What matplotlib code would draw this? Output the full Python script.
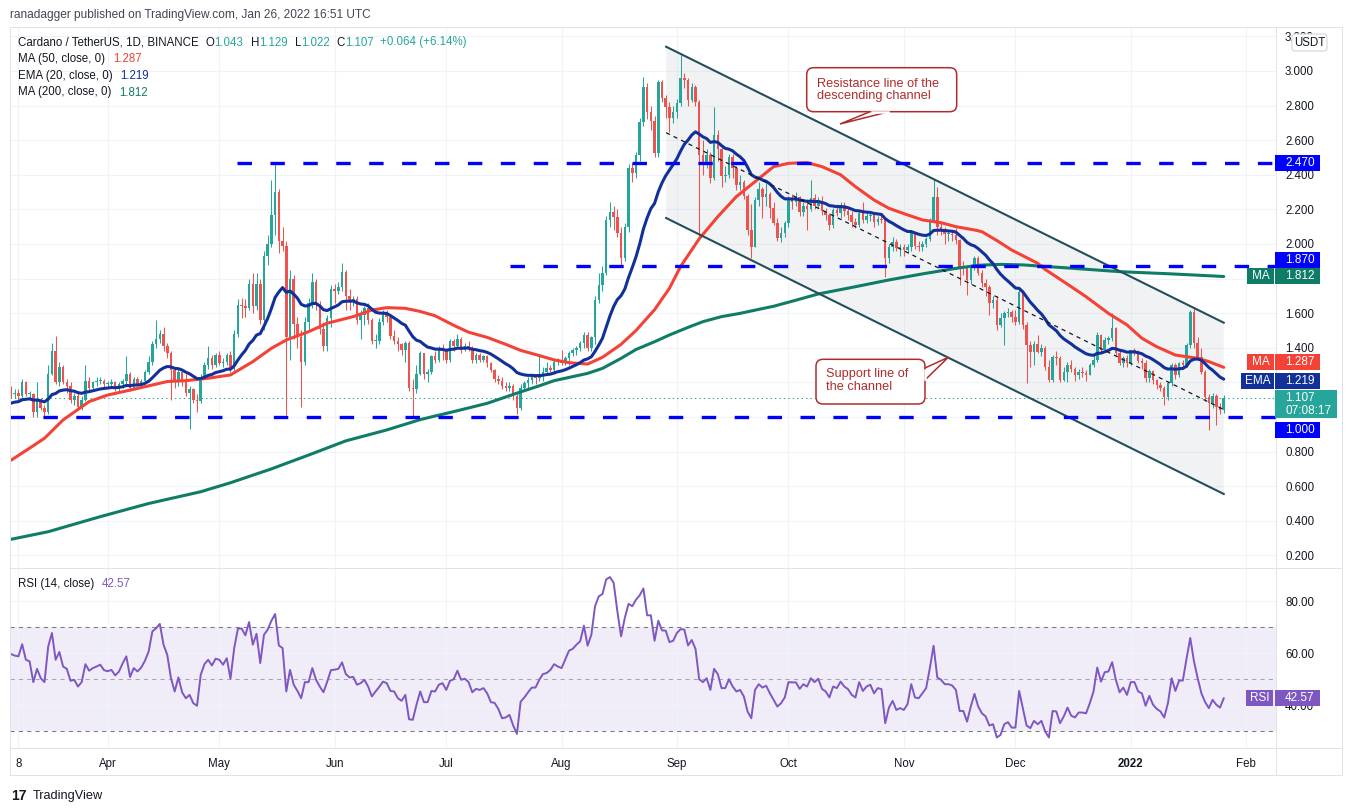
import numpy as np
import pandas as pd
import matplotlib
matplotlib.use("Agg")
import matplotlib.pyplot as plt
from matplotlib.patches import Rectangle, FancyBboxPatch, Polygon
from matplotlib.lines import Line2D
from matplotlib.ticker import FormatStrFormatter, FuncFormatter
from matplotlib.transforms import IdentityTransform

# -----------------------------------------
# style
# -----------------------------------------

plt.rcParams.update({
    "font.family": ["Liberation Sans", "DejaVu Sans"],
    "font.size": 8.3,
    "lines.scale_dashes": False,
    "figure.dpi": 100,
    "savefig.dpi": 100,
})

W, H = 1353, 811
PX = IdentityTransform()

UP = "#26a69a"
DOWN = "#ef5350"
MA50_C = "#f44336"
EMA_C = "#11309a"
MA200_C = "#0e7c66"
LEVEL_C = "#0000ff"
RSI_C = "#7e57c2"
CHANNEL_C = "#214f5b"
ANN_C = "#b02c2c"
BORDER = "#e0e3eb"
GRID = "#f0f3fa"
TEXT = "#131722"

# -----------------------------------------
# data (ADA/USDT daily, from 2021-03-06)
# -----------------------------------------

START = pd.Timestamp("2021-03-06")
OPEN0 = 1.16

CLOSE = [
    1.13, 1.14, 1.12, 1.20, 1.13, 1.13, 1.03, 1.10, 1.05, 1.03,
    1.25, 1.38, 1.20, 1.29, 1.20, 1.18, 1.10, 1.12, 1.06, 1.10,
    1.21, 1.17, 1.20, 1.21, 1.21, 1.19, 1.19, 1.20, 1.16, 1.19,
    1.21, 1.25, 1.17, 1.22, 1.19, 1.21, 1.26, 1.32, 1.42, 1.45,
    1.48, 1.41, 1.37, 1.27, 1.20, 1.26, 1.20, 1.14, 1.16, 1.10,
    1.09, 1.23, 1.30, 1.34, 1.30, 1.36, 1.31, 1.32, 1.36, 1.28,
    1.48, 1.65, 1.64, 1.63, 1.77, 1.64, 1.77, 1.56, 1.93, 2.00,
    2.17, 2.30, 2.02, 1.99, 1.46, 1.80, 1.54, 1.46, 1.32, 1.55,
    1.66, 1.78, 1.65, 1.51, 1.41, 1.57, 1.74, 1.73, 1.75, 1.84,
    1.70, 1.67, 1.68, 1.56, 1.59, 1.63, 1.56, 1.44, 1.44, 1.55,
    1.60, 1.58, 1.47, 1.44, 1.42, 1.385, 1.43, 1.17, 1.16, 1.25,
    1.37, 1.25, 1.26, 1.35, 1.33, 1.39, 1.38, 1.33, 1.44, 1.41,
    1.45, 1.39, 1.41, 1.40, 1.33, 1.36, 1.33, 1.35, 1.31, 1.27,
    1.22, 1.21, 1.18, 1.17, 1.18, 1.12, 1.05, 1.17, 1.195, 1.214,
    1.243, 1.223, 1.243, 1.26, 1.281, 1.272, 1.320, 1.329, 1.310, 1.339,
    1.368, 1.387, 1.397, 1.426, 1.474, 1.40, 1.464, 1.676, 1.76, 1.83,
    2.139, 2.187, 2.158, 2.062, 1.917, 2.100, 2.437, 2.41, 2.514, 2.707,
    2.909, 2.765, 2.71, 2.524, 2.938, 2.842, 2.79, 2.73, 2.765, 2.813,
    2.958, 2.95, 2.83, 2.91, 2.82, 2.514, 2.466, 2.514, 2.380, 2.630,
    2.55, 2.39, 2.40, 2.505, 2.44, 2.34, 2.36, 2.28, 2.081, 1.985,
    2.254, 2.32, 2.27, 2.29, 2.206, 2.123, 2.033, 2.062, 2.120, 2.264,
    2.245, 2.274, 2.187, 2.22, 2.20, 2.264, 2.22, 2.25, 2.19, 2.168,
    2.110, 2.197, 2.18, 2.225, 2.19, 2.17, 2.125, 2.110, 2.177, 2.139,
    2.16, 2.165, 2.125, 2.145, 2.14, 1.917, 1.985, 2.014, 1.975, 1.98,
    1.965, 1.985, 2.062, 1.99, 1.985, 2.00, 2.03, 2.139, 2.27, 2.096,
    2.08, 2.06, 2.06, 2.05, 2.023, 1.869, 1.865, 1.792, 1.869, 1.917,
    1.83, 1.773, 1.753, 1.657, 1.676, 1.532, 1.57, 1.599, 1.609, 1.58,
    1.551, 1.724, 1.532, 1.416, 1.378, 1.422, 1.378, 1.40, 1.291, 1.214,
    1.349, 1.339, 1.214, 1.262, 1.301, 1.28, 1.243, 1.26, 1.255, 1.243,
    1.301, 1.329, 1.474, 1.387, 1.445, 1.458, 1.513, 1.368, 1.31, 1.34,
    1.31, 1.387, 1.38, 1.325, 1.31, 1.224, 1.265, 1.214, 1.185, 1.166,
    1.117, 1.195, 1.301, 1.24, 1.31, 1.30, 1.416, 1.609, 1.43, 1.349,
    1.262, 1.117, 1.079, 1.12, 1.06, 1.043, 1.107,
]

HIGH = [
    1.18, 1.16, 1.16, 1.22, 1.21, 1.15, 1.14, 1.20, 1.11, 1.07,
    1.30, 1.43, 1.47, 1.32, 1.30, 1.22, 1.20, 1.14, 1.15, 1.12,
    1.30, 1.23, 1.21, 1.23, 1.23, 1.22, 1.21, 1.22, 1.21, 1.20,
    1.22, 1.35, 1.26, 1.23, 1.23, 1.22, 1.27, 1.35, 1.44, 1.56,
    1.50, 1.52, 1.43, 1.38, 1.29, 1.28, 1.28, 1.25, 1.18, 1.17,
    1.13, 1.25, 1.32, 1.41, 1.36, 1.37, 1.38, 1.34, 1.37, 1.38,
    1.50, 1.68, 1.69, 1.68, 1.80, 1.83, 1.83, 1.80, 1.96, 2.05,
    2.37, 2.46, 2.32, 2.10, 2.02, 1.85, 1.82, 1.58, 1.50, 1.58,
    1.69, 1.83, 1.80, 1.67, 1.55, 1.59, 1.76, 1.77, 1.78, 1.89,
    1.85, 1.74, 1.70, 1.70, 1.62, 1.64, 1.66, 1.57, 1.48, 1.57,
    1.62, 1.62, 1.59, 1.50, 1.46, 1.43, 1.44, 1.44, 1.22, 1.30,
    1.38, 1.37, 1.28, 1.36, 1.38, 1.41, 1.42, 1.39, 1.45, 1.45,
    1.48, 1.46, 1.43, 1.44, 1.41, 1.37, 1.37, 1.36, 1.36, 1.32,
    1.28, 1.24, 1.23, 1.20, 1.20, 1.19, 1.13, 1.19, 1.21, 1.23,
    1.25, 1.25, 1.354, 1.29, 1.32, 1.30, 1.33, 1.34, 1.387, 1.35,
    1.38, 1.40, 1.41, 1.44, 1.49, 1.49, 1.47, 1.70, 1.83, 1.87,
    2.16, 2.245, 2.22, 2.20, 2.10, 2.12, 2.46, 2.47, 2.53, 2.73,
    2.967, 2.93, 2.80, 2.74, 2.95, 2.95, 2.86, 2.82, 2.80, 2.84,
    3.092, 2.99, 2.96, 2.93, 2.92, 2.83, 2.60, 2.55, 2.53, 2.794,
    2.66, 2.56, 2.45, 2.52, 2.52, 2.45, 2.40, 2.37, 2.29, 2.23,
    2.27, 2.36, 2.33, 2.35, 2.30, 2.24, 2.15, 2.10, 2.13, 2.28,
    2.29, 2.30, 2.28, 2.24, 2.26, 2.37, 2.29, 2.27, 2.28, 2.21,
    2.18, 2.21, 2.23, 2.24, 2.24, 2.21, 2.19, 2.15, 2.19, 2.24,
    2.18, 2.18, 2.17, 2.16, 2.17, 2.15, 2.00, 2.04, 2.03, 2.00,
    2.00, 2.00, 2.081, 2.07, 2.02, 2.02, 2.04, 2.15, 2.374, 2.33,
    2.12, 2.10, 2.08, 2.08, 2.09, 2.03, 1.90, 1.88, 1.88, 1.93,
    1.93, 1.85, 1.80, 1.76, 1.70, 1.70, 1.60, 1.61, 1.63, 1.62,
    1.62, 1.744, 1.73, 1.55, 1.44, 1.44, 1.474, 1.42, 1.41, 1.33,
    1.36, 1.38, 1.35, 1.29, 1.32, 1.33, 1.29, 1.28, 1.29, 1.27,
    1.31, 1.36, 1.49, 1.48, 1.46, 1.47, 1.599, 1.52, 1.38, 1.35,
    1.36, 1.39, 1.40, 1.39, 1.34, 1.33, 1.28, 1.27, 1.22, 1.20,
    1.18, 1.20, 1.31, 1.31, 1.32, 1.33, 1.43, 1.62, 1.634, 1.46,
    1.40, 1.27, 1.13, 1.14, 1.13, 1.08, 1.129,
]

LOW = [
    1.11, 1.11, 1.10, 1.11, 1.12, 1.10, 1.00, 1.00, 1.04, 1.00,
    1.02, 1.24, 1.19, 1.18, 1.19, 1.14, 1.08, 1.07, 1.04, 1.04,
    1.09, 1.15, 1.16, 1.18, 1.19, 1.17, 1.17, 1.17, 1.15, 1.15,
    1.17, 1.19, 1.15, 1.16, 1.18, 1.18, 1.20, 1.25, 1.30, 1.40,
    1.43, 1.38, 1.34, 1.10, 1.17, 1.18, 1.18, 1.12, 0.93, 1.08,
    1.03, 1.08, 1.22, 1.28, 1.28, 1.29, 1.30, 1.29, 1.30, 1.26,
    1.26, 1.46, 1.57, 1.58, 1.62, 1.60, 1.62, 1.54, 1.50, 1.88,
    1.98, 2.05, 1.95, 1.96, 1.01, 1.33, 1.45, 1.40, 1.06, 1.30,
    1.50, 1.63, 1.62, 1.48, 1.38, 1.38, 1.52, 1.66, 1.71, 1.73,
    1.62, 1.62, 1.64, 1.54, 1.45, 1.53, 1.54, 1.42, 1.40, 1.42,
    1.53, 1.55, 1.45, 1.42, 1.38, 1.36, 1.32, 1.15, 1.00, 1.14,
    1.24, 1.22, 1.20, 1.25, 1.31, 1.32, 1.33, 1.31, 1.32, 1.38,
    1.40, 1.37, 1.38, 1.38, 1.31, 1.31, 1.32, 1.32, 1.29, 1.26,
    1.20, 1.19, 1.16, 1.15, 1.15, 1.10, 1.02, 1.04, 1.15, 1.17,
    1.19, 1.19, 1.21, 1.21, 1.25, 1.26, 1.25, 1.30, 1.30, 1.30,
    1.30, 1.35, 1.36, 1.38, 1.40, 1.38, 1.38, 1.42, 1.66, 1.73,
    1.82, 2.10, 2.08, 2.04, 1.88, 1.90, 2.07, 2.36, 2.38, 2.48,
    2.68, 2.72, 2.66, 2.50, 2.50, 2.82, 2.73, 2.65, 2.70, 2.73,
    2.80, 2.90, 2.80, 2.82, 2.80, 2.023, 2.40, 2.44, 2.35, 2.37,
    2.48, 2.33, 2.36, 2.38, 2.38, 2.31, 2.31, 2.26, 2.05, 1.917,
    1.98, 2.22, 2.15, 2.22, 2.15, 2.11, 2.02, 2.01, 2.04, 2.10,
    2.20, 2.22, 2.16, 2.16, 2.08, 2.19, 2.20, 2.21, 2.17, 2.14,
    2.08, 2.09, 2.16, 2.15, 2.16, 2.14, 2.10, 2.09, 2.10, 2.12,
    2.12, 2.13, 2.10, 2.11, 2.12, 1.811, 1.89, 1.96, 1.96, 1.93,
    1.93, 1.95, 1.96, 1.97, 1.96, 1.96, 1.98, 2.02, 2.13, 2.05,
    2.05, 2.00, 2.02, 2.02, 2.00, 1.763, 1.82, 1.705, 1.77, 1.85,
    1.82, 1.75, 1.70, 1.59, 1.63, 1.503, 1.52, 1.416, 1.58, 1.55,
    1.53, 1.54, 1.51, 1.195, 1.29, 1.30, 1.37, 1.35, 1.27, 1.20,
    1.205, 1.30, 1.20, 1.21, 1.20, 1.26, 1.21, 1.22, 1.23, 1.21,
    1.24, 1.29, 1.32, 1.37, 1.38, 1.42, 1.44, 1.36, 1.30, 1.29,
    1.29, 1.30, 1.36, 1.31, 1.28, 1.20, 1.20, 1.19, 1.16, 1.15,
    1.069, 1.10, 1.18, 1.22, 1.23, 1.28, 1.29, 1.40, 1.40, 1.33,
    1.25, 1.09, 0.925, 1.05, 0.954, 1.02, 1.022,
]

RSI = [
    59.6, 59.0, 58.7, 63.4, 57.4, 56.8, 48.8, 53.9, 50.3, 48.8,
    62.5, 67.7, 57.4, 60.4, 54.8, 53.9, 49.3, 49.7, 47.1, 48.8,
    55.7, 53.2, 54.2, 54.8, 55.5, 53.4, 53.0, 53.5, 51.4, 52.8,
    56.0, 58.7, 50.8, 54.2, 52.9, 54.4, 57.0, 60.6, 68.3, 69.5,
    71.2, 63.2, 59.3, 50.3, 45.2, 50.6, 44.9, 42.6, 43.9, 40.7,
    39.7, 51.6, 55.7, 57.4, 55.2, 57.8, 57.4, 55.5, 58.0, 50.1,
    61.9, 69.4, 69.4, 66.8, 71.9, 63.2, 67.4, 56.1, 67.0, 69.0,
    72.4, 75.0, 62.9, 61.9, 45.2, 53.5, 47.8, 45.4, 42.6, 48.8,
    48.8, 54.2, 49.7, 47.1, 44.9, 49.0, 53.4, 53.6, 53.9, 56.4,
    51.9, 50.6, 50.8, 47.8, 48.4, 49.7, 47.1, 43.3, 45.2, 47.0,
    49.0, 48.4, 45.4, 45.2, 42.6, 41.6, 43.9, 34.5, 34.3, 40.1,
    45.2, 41.1, 41.1, 45.4, 45.2, 47.8, 48.4, 45.8, 49.3, 49.9,
    53.2, 49.7, 50.1, 48.8, 44.9, 46.2, 45.8, 46.5, 44.5, 41.1,
    40.8, 38.5, 34.9, 35.2, 36.2, 32.1, 28.9, 41.3, 42.9, 44.9,
    46.7, 46.7, 49.7, 51.9, 52.3, 53.5, 55.7, 54.8, 54.2, 57.5,
    60.9, 61.6, 63.2, 64.5, 70.5, 62.8, 67.0, 78.0, 81.8, 82.7,
    88.3, 89.2, 87.0, 76.0, 66.4, 73.5, 78.9, 78.0, 80.5, 82.2,
    84.8, 74.5, 74.5, 64.7, 72.4, 68.7, 68.6, 64.2, 64.7, 67.7,
    69.2, 69.0, 62.9, 65.0, 61.6, 49.9, 48.8, 50.3, 45.8, 53.9,
    51.9, 46.5, 46.5, 49.9, 47.1, 45.2, 45.8, 43.3, 37.5, 34.9,
    45.8, 48.0, 46.7, 47.4, 44.5, 42.0, 39.4, 40.7, 42.9, 48.8,
    48.7, 48.7, 46.2, 48.0, 47.1, 50.3, 48.8, 50.1, 46.2, 45.2,
    42.9, 47.1, 46.5, 49.0, 47.1, 46.1, 43.9, 42.9, 48.8, 45.4,
    47.1, 47.8, 44.5, 46.5, 46.1, 33.0, 39.0, 41.6, 38.1, 38.8,
    38.1, 40.3, 48.0, 42.9, 42.6, 44.5, 46.5, 54.2, 62.8, 50.6,
    49.7, 48.0, 48.0, 47.5, 45.8, 37.7, 37.7, 33.6, 39.4, 44.3,
    39.4, 36.8, 35.6, 32.1, 32.6, 27.5, 28.5, 32.6, 33.4, 31.3,
    31.3, 45.4, 38.8, 32.1, 31.1, 33.9, 32.6, 33.9, 29.8, 27.5,
    37.7, 37.5, 33.0, 35.6, 39.0, 35.9, 35.2, 37.1, 37.1, 36.8,
    40.7, 45.2, 54.4, 49.0, 52.6, 52.9, 56.5, 49.7, 44.9, 46.7,
    43.9, 48.8, 48.8, 45.2, 44.5, 39.7, 43.5, 40.1, 38.5, 37.5,
    35.2, 40.7, 50.3, 45.4, 49.4, 49.4, 57.8, 65.8, 56.8, 50.3,
    44.5, 41.1, 38.8, 42.0, 40.1, 39.0, 42.57,
]

# moving averages (day offset, value)
MA50_DAY = [0, 5, 9, 14, 21, 26, 33, 38, 42, 47, 53, 59, 65, 70, 74, 80, 85,
            92, 97, 101, 106, 110, 114, 119, 123, 128, 133, 137, 142, 146,
            150, 155, 159, 164, 168, 173, 177, 180, 185, 190, 195, 200, 205,
            209, 214, 218, 223, 227, 232, 236, 241, 245, 250, 254, 259, 261,
            265, 269, 276, 278, 285, 289, 295, 300, 304, 308, 313, 319, 322,
            326]
MA50_VAL = [0.75, 0.82, 0.877, 0.983, 1.089, 1.127, 1.160, 1.185, 1.205,
            1.21, 1.224, 1.243, 1.32, 1.397, 1.445, 1.493, 1.542, 1.58, 1.618,
            1.632, 1.628, 1.61, 1.585, 1.53, 1.49, 1.46, 1.42, 1.385, 1.355,
            1.33, 1.314, 1.306, 1.345, 1.42, 1.50, 1.62, 1.744, 1.87, 2.03,
            2.158, 2.274, 2.36, 2.447, 2.466, 2.47, 2.447, 2.40, 2.331, 2.254,
            2.206, 2.168, 2.139, 2.123, 2.10, 2.081, 2.071, 2.02, 1.965,
            1.888, 1.853, 1.753, 1.695, 1.599, 1.532, 1.455, 1.406, 1.358,
            1.339, 1.32, 1.287]

MA200_DAY = [0, 10, 24, 37, 51, 59, 70, 80, 90, 101, 110, 119, 128, 137, 142,
             146, 155, 159, 164, 168, 173, 177, 182, 186, 191, 196, 201, 205,
             211, 217, 227, 236, 245, 254, 260, 266, 272, 285, 298, 312, 326]
MA200_VAL = [0.293, 0.337, 0.424, 0.50, 0.568, 0.62, 0.70, 0.78, 0.862,
             0.925, 0.985, 1.031, 1.079, 1.145, 1.18, 1.21, 1.252, 1.281,
             1.339, 1.39, 1.435, 1.474, 1.518, 1.551, 1.580, 1.599, 1.622,
             1.64, 1.675, 1.711, 1.753, 1.792, 1.827, 1.859, 1.877, 1.882,
             1.879, 1.860, 1.840, 1.827, 1.812]

EMA_START = 1.08
EMA_SPAN = 20

LAST_MA50 = 1.287
LAST_EMA = 1.219
LAST_MA200 = 1.812
LAST_PRICE = 1.107
LAST_RSI = 42.57

# horizontal levels and where the author started them (day offset)
LEVELS = [2.470, 1.870, 1.000]
LEVEL_FROM = [60.8, 134.1, -0.3]

# descending channel drawn by the author
CH_DAYS = [176.1, 326.0]
CH_TOP = [3.14, 1.545]
CH_BOT = [2.15, 0.555]
CH_MID = [2.643, 1.043]

# price scale labels hidden behind the tags in the original
HIDDEN_TICKS = [1.0, 1.2, 1.8]

TICK_DATES = ["2021-03-08", "2021-04-01", "2021-05-01", "2021-06-01",
              "2021-07-01", "2021-08-01", "2021-09-01", "2021-10-01",
              "2021-11-01", "2021-12-01", "2022-01-01", "2022-02-01"]
TICK_LABELS = ["8", "Apr", "May", "Jun", "Jul", "Aug", "Sep", "Oct", "Nov",
               "Dec", "2022", "Feb"]


# -----------------------------------------
# helpers (pixel coords measured from top-left)
# -----------------------------------------

def fline(fig, x0, y0, x1, y1, color=BORDER, lw=1.0):
    fig.add_artist(Line2D([x0, x1], [H - y0, H - y1], transform=PX,
                          color=color, lw=lw * 0.72))


def ftext(fig, x, y, s, **kw):
    return fig.text(x, H - y, s, transform=PX, **kw)


def tag(fig, x0, x1, yc, text, fc, h=16, ha="center"):
    fig.add_artist(Rectangle((x0, H - yc - h / 2), x1 - x0, h, transform=PX,
                             fc=fc, ec="none", zorder=5))
    tx = (x0 + x1) / 2 if ha == "center" else x0 + 10
    ftext(fig, tx, yc, text, color="white", ha=ha, va="center",
          fontsize=8.5, zorder=6)


def text_run(fig, renderer, x, y, pieces, size=8.3):
    for s, color, gap in pieces:
        t = ftext(fig, x, y, s, color=color, fontsize=size, ha="left",
                  va="center")
        x = t.get_window_extent(renderer).x1 + gap


def callout(fig, box, lines, tail, base_cover):
    x0, y0, x1, y1 = box
    fig.add_artist(FancyBboxPatch((x0, H - y1), x1 - x0, y1 - y0,
                                  boxstyle="round,pad=0,rounding_size=7",
                                  transform=PX, fc="white", ec=ANN_C,
                                  lw=1.1, zorder=7))
    fig.add_artist(Polygon([(px, H - py) for px, py in tail], closed=True,
                           transform=PX, fc="white", ec=ANN_C, lw=1.1,
                           zorder=8))
    (cx0, cy0), (cx1, cy1) = base_cover
    fig.add_artist(Line2D([cx0, cx1], [H - cy0, H - cy1], transform=PX,
                          color="white", lw=1.8, zorder=9))
    for (tx, ty, s) in lines:
        ftext(fig, tx, ty, s, color=ANN_C, fontsize=9.2, ha="left",
              va="center", zorder=10)


def price_label(v, _pos):
    if any(abs(v - h) < 1e-6 for h in HIDDEN_TICKS):
        return ""
    return f"{v:.3f}"


# -----------------------------------------
# figure
# -----------------------------------------

def main():

    fig = plt.figure(figsize=(W / 100, H / 100), dpi=100, facecolor="white")

    ax = fig.add_axes([10 / W, 1 - 567 / H, 1266 / W, 540 / H])
    ax2 = fig.add_axes([10 / W, 1 - 748 / H, 1266 / W, 180 / H], sharex=ax)

    days = np.arange(len(CLOSE))
    close = np.array(CLOSE)
    high = np.array(HIGH)
    low = np.array(LOW)
    opn = np.concatenate([[OPEN0], close[:-1]])
    colors = np.where(close >= opn, UP, DOWN)

    ticks = [(pd.Timestamp(d) - START).days for d in TICK_DATES]

    for a in (ax, ax2):
        a.set_facecolor("white")
        for s in a.spines.values():
            s.set_visible(False)
        a.set_axisbelow(True)
        a.grid(True, color=GRID, lw=0.75)
        a.yaxis.tick_right()
        a.tick_params(axis="both", length=0, labelcolor=TEXT, labelsize=8.3)

    ax.set_xlim(-0.27, 340.05)
    ax.set_ylim(0.133, 3.254)
    ax.set_xticks(ticks)
    ax.tick_params(labelbottom=False)
    ax.set_yticks(np.round(np.arange(0.2, 3.21, 0.2), 1))
    ax.yaxis.set_major_formatter(FuncFormatter(price_label))
    ax.tick_params(axis="y", pad=6.5)

    # channel shading
    ax.fill([CH_DAYS[0], CH_DAYS[1], CH_DAYS[1], CH_DAYS[0]],
            [CH_TOP[0], CH_TOP[1], CH_BOT[1], CH_BOT[0]],
            color="#d1d4dc", alpha=0.3, lw=0, zorder=1)

    # candles
    ax.vlines(days, low, high, colors=colors, lw=0.75, zorder=3)
    ax.bar(days, np.maximum(np.abs(close - opn), 0.006),
           bottom=np.minimum(opn, close), width=0.68, color=colors, lw=0,
           zorder=4)

    # moving averages
    alpha = 2 / (EMA_SPAN + 1)
    ema = [EMA_START]
    for c in CLOSE[1:]:
        ema.append(ema[-1] + alpha * (c - ema[-1]))

    ax.plot(MA200_DAY, MA200_VAL, color=MA200_C, lw=2.2, zorder=5,
            solid_capstyle="round")
    ax.plot(MA50_DAY, MA50_VAL, color=MA50_C, lw=2.2, zorder=5,
            solid_capstyle="round")
    ax.plot(days, ema, color=EMA_C, lw=2.2, zorder=5, solid_capstyle="round")

    # author drawings
    ax.plot(CH_DAYS, CH_TOP, color=CHANNEL_C, lw=1.5, zorder=6)
    ax.plot(CH_DAYS, CH_BOT, color=CHANNEL_C, lw=1.5, zorder=6)
    ax.plot(CH_DAYS, CH_MID, color=TEXT, lw=0.9, dashes=(3, 3), zorder=6)

    for lvl, x0 in zip(LEVELS, LEVEL_FROM):
        ax.plot([x0, 345], [lvl, lvl], color=LEVEL_C, lw=2.4,
                dashes=(10.4, 13.3), zorder=6, dash_capstyle="butt")

    ax.axhline(LAST_PRICE, color=UP, lw=0.75, dashes=(1, 2.2), zorder=2)

    # RSI pane
    ax2.set_ylim(23.46, 92.7)
    ax2.set_yticks([40, 60, 80])
    ax2.yaxis.set_major_formatter(FormatStrFormatter("%.2f"))
    ax2.tick_params(axis="y", pad=6.5)
    ax2.set_xticks(ticks)
    ax2.set_xticklabels(TICK_LABELS)
    ax2.tick_params(axis="x", pad=7)
    ax2.get_xticklabels()[TICK_LABELS.index("2022")].set_fontweight("bold")

    ax2.axhspan(30, 70, color=RSI_C, alpha=0.1, lw=0, zorder=0)
    ax2.axhline(70, color="#787b86", lw=0.75, dashes=(3, 3))
    ax2.axhline(30, color="#787b86", lw=0.75, dashes=(3, 3))
    ax2.axhline(50, color="#a3a6af", lw=0.75, dashes=(3, 3))
    ax2.plot(days, RSI, color=RSI_C, lw=1.4, zorder=4)

    # frame lines
    fline(fig, 10, 27, 1342, 27)
    fline(fig, 10, 775, 1342, 775)
    fline(fig, 10, 27, 10, 775)
    fline(fig, 1342, 27, 1342, 775)
    fline(fig, 1276, 27, 1276, 775)
    fline(fig, 10, 567.5, 1342, 567.5)
    fline(fig, 10, 748, 1342, 748)

    # right-hand price tags
    def py(v, a=ax):
        return H - a.transData.transform((0, v))[1]

    tag(fig, 1275, 1320, py(2.470), "2.470", LEVEL_C, ha="left")
    tag(fig, 1275, 1320, py(1.870) - 6, "1.870", LEVEL_C, ha="left")
    tag(fig, 1247, 1274, py(LAST_MA200), "MA", MA200_C)
    tag(fig, 1275, 1320, py(LAST_MA200), f"{LAST_MA200:.3f}", MA200_C,
        ha="left")
    tag(fig, 1247, 1274, py(LAST_MA50) - 5, "MA", MA50_C)
    tag(fig, 1275, 1320, py(LAST_MA50) - 5, f"{LAST_MA50:.3f}", MA50_C,
        ha="left")
    tag(fig, 1241, 1274, py(LAST_EMA) + 1.5, "EMA", EMA_C)
    tag(fig, 1275, 1320, py(LAST_EMA) + 1.5, f"{LAST_EMA:.3f}", EMA_C,
        ha="left")

    yp = py(LAST_PRICE)
    fig.add_artist(Rectangle((1275, H - (yp + 20)), 62, 28, transform=PX,
                             fc=UP, ec="none", zorder=5))
    ftext(fig, 1285, yp, f"{LAST_PRICE:.3f}", color="white", fontsize=8.5,
          va="center", zorder=6)
    ftext(fig, 1285, yp + 13, "07:08:17", color="white", fontsize=8.5,
          va="center", zorder=6)
    tag(fig, 1275, 1320, py(1.000) + 13, "1.000", LEVEL_C, ha="left")

    yr = py(LAST_RSI, ax2)
    tag(fig, 1246, 1273, yr, "RSI", RSI_C)
    tag(fig, 1275, 1320, yr, f"{LAST_RSI:.2f}", RSI_C, ha="left")

    fig.add_artist(FancyBboxPatch((1292, H - 51), 35, 17,
                                  boxstyle="round,pad=0,rounding_size=3",
                                  transform=PX, fc="white", ec="#d1d4dc",
                                  lw=0.8, zorder=5))
    ftext(fig, 1309.5, 42.5, "USDT", color=TEXT, fontsize=8.3, ha="center",
          va="center", zorder=6)

    # legends
    renderer = fig.canvas.get_renderer()
    ftext(fig, 10, 15, "ranadagger published on TradingView.com, "
          "Jan 26, 2022 16:51 UTC", color="#434651", fontsize=8.6,
          va="center")
    text_run(fig, renderer, 18, 42.5, [
        ("Cardano / TetherUS, 1D, BINANCE", TEXT, 7),
        ("O", TEXT, 0), ("1.043", UP, 7),
        ("H", TEXT, 0), ("1.129", UP, 7),
        ("L", TEXT, 0), ("1.022", UP, 7),
        ("C", TEXT, 0), ("1.107", UP, 6),
        ("+0.064 (+6.14%)", UP, 0),
    ])
    text_run(fig, renderer, 18, 59, [
        ("MA (50, close, 0)", TEXT, 8), (f"{LAST_MA50:.3f}", MA50_C, 0)])
    text_run(fig, renderer, 18, 76, [
        ("EMA (20, close, 0)", TEXT, 8), (f"{LAST_EMA:.3f}", EMA_C, 0)])
    text_run(fig, renderer, 18, 92.5, [
        ("MA (200, close, 0)", TEXT, 8), (f"{LAST_MA200:.3f}", MA200_C, 0)])
    text_run(fig, renderer, 18, 584, [
        ("RSI (14, close)", TEXT, 8), (f"{LAST_RSI:.2f}", RSI_C, 0)])

    # callouts
    callout(fig, (806.7, 67.7, 956.7, 111.7),
            [(817, 84, "Resistance line of the"),
             (817, 96, "descending channel")],
            [(870, 111.7), (840, 124), (889, 111.7)],
            ((871.5, 111.7), (887.5, 111.7)))
    callout(fig, (816, 359.3, 925, 404),
            [(826, 374.5, "Support line of"),
             (826, 386.5, "the channel")],
            [(925, 368), (948.3, 357.3), (925, 380)],
            ((925, 369.5), (925, 378.5)))

    # footer logo
    ftext(fig, 11, 796, "17", color=TEXT, fontsize=10, fontweight="bold",
          va="center")
    ftext(fig, 33, 796, "TradingView", color=TEXT, fontsize=9.2,
          va="center")

    fig.savefig("out.png", dpi=100, facecolor="white")
    plt.close(fig)


if __name__ == "__main__":
    main()
